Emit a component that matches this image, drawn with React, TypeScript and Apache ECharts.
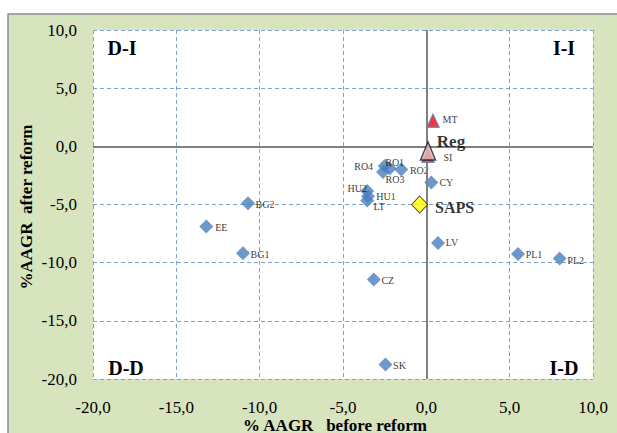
import React, { useEffect, useRef } from "react";
import * as echarts from "echarts";

// Member-state growth rates: before reform (x) vs after reform (y), in %
const countryNames = ["RO4", "RO1", "RO3", "RO2", "CY", "HU2", "HU1", "LT", "BG2", "EE", "BG1", "LV", "PL1", "PL2", "CZ", "SK"];
const beforeReform = [-2.5, -2.2, -2.6, -1.5, 0.3, -3.55, -3.5, -3.55, -10.7, -13.2, -11.0, 0.7, 5.5, 8.0, -3.15, -2.45];
const afterReform = [-1.7, -1.9, -2.2, -2.0, -3.1, -3.85, -4.3, -4.65, -4.9, -6.9, -9.2, -8.3, -9.25, -9.65, -11.45, -18.75];

const triNames = ["SI", "MT"];
const triBefore = [0.1, 0.4];
const triAfter = [-0.8, 2.2];

const regName = "Reg";
const regPoint = [0.1, -0.4];
const sapsName = "SAPS";
const sapsPoint = [-0.4, -5.0];

const axisMin = -20;
const axisMax = 10;
const axisStep = 5;

const quadrantLabels = ["D-I", "I-I", "D-D", "I-D"];
const xTitle = "% AAGR   before reform";
const yTitle = "%AAGR  after reform";

// label offsets (px) from each marker's centre to its label's centre
const labelOffset: Record<string, [number, number]> = {
  RO4: [-21, 0],
  RO1: [5, -6],
  RO3: [12, 8],
  RO2: [18, 1],
  CY: [15, 0],
  HU2: [-10, -3],
  HU1: [18, 0],
  LT: [12, 6],
  BG2: [17, 1],
  EE: [15, 1],
  BG1: [17, 1],
  LV: [14, 0],
  PL1: [16, 1],
  PL2: [16, 2],
  CZ: [14, 1],
  SK: [14, 1],
  SI: [20, 1.5],
  MT: [17, -1.5],
  Reg: [23, -9],
  SAPS: [35, 3],
};

const SERIF = "'Liberation Serif', 'Times New Roman', serif";
const fmt = (v: number) => v.toFixed(1).replace(".", ",");

const smallLabel = (name: string) => ({
  show: true,
  position: "inside" as const,
  offset: labelOffset[name],
  formatter: name,
  fontFamily: SERIF,
  fontSize: 10,
  color: "#000",
});

export default function App() {
  const ref = useRef<HTMLDivElement>(null);

  useEffect(() => {
    if (!ref.current) return;
    const chart = echarts.init(ref.current, undefined, { renderer: "svg" });

    const gridLine = {
      show: true,
      lineStyle: { color: "#7fa3d1", width: 1, type: [4, 3] as number[] },
    };

    const axisCommon = {
      type: "value" as const,
      min: axisMin,
      max: axisMax,
      interval: axisStep,
      axisLine: { show: false },
      axisTick: { show: false },
      splitLine: gridLine,
    };

    chart.setOption({
      animation: false,
      backgroundColor: "#ffffff",
      grid: {
        left: 93,
        top: 30,
        width: 500,
        height: 349,
        show: true,
        backgroundColor: "#ffffff",
        borderWidth: 0,
      },
      xAxis: {
        ...axisCommon,
        axisLabel: { formatter: fmt, fontFamily: SERIF, fontSize: 17, color: "#000", margin: 20 },
      },
      yAxis: {
        ...axisCommon,
        axisLabel: { formatter: fmt, fontFamily: SERIF, fontSize: 17, color: "#000", margin: 16 },
      },
      graphic: [
        {
          type: "rect",
          z: -100,
          silent: true,
          shape: { x: 8, y: 14, width: 640, height: 440 },
          style: { fill: "#d7e4bd", stroke: "#8c8c8c", lineWidth: 1.5 },
        },
        ...quadrantLabels.map((t, i) => ({
          type: "text",
          z: 10,
          x: i % 2 === 0 ? (i === 0 ? 122 : 126) : 564,
          y: i < 2 ? 48 : 368,
          style: {
            text: t,
            fontFamily: SERIF,
            fontWeight: "bold",
            fontSize: 20,
            fill: "#000",
            textAlign: "center",
            textVerticalAlign: "middle",
          },
        })),
        {
          type: "text",
          x: 335,
          y: 425,
          style: {
            text: xTitle,
            fontFamily: SERIF,
            fontWeight: "bold",
            fontSize: 17,
            fill: "#000",
            textAlign: "center",
            textVerticalAlign: "middle",
          },
        },
        {
          type: "text",
          x: 26,
          y: 207,
          rotation: Math.PI / 2,
          style: {
            text: yTitle,
            fontFamily: SERIF,
            fontWeight: "bold",
            fontSize: 17,
            fill: "#000",
            textAlign: "center",
            textVerticalAlign: "middle",
          },
        },
      ],
      series: [
        {
          type: "scatter",
          z: 1,
          data: [],
          markLine: {
            silent: true,
            symbol: ["none", "none"],
            label: { show: false },
            lineStyle: { color: "#808080", width: 2, type: "solid" },
            data: [{ xAxis: 0 }, { yAxis: 0 }],
          },
        },
        {
          type: "scatter",
          z: 3,
          symbol: "diamond",
          symbolSize: 14,
          itemStyle: { color: "#4a7ebb" },
          data: countryNames.map((n, i) => ({
            name: n,
            value: [beforeReform[i], afterReform[i]],
            label: smallLabel(n),
          })),
        },
        {
          type: "scatter",
          z: 4,
          symbol: "triangle",
          symbolSize: [12, 13],
          itemStyle: { color: "#ff0000", borderColor: "#4f81bd", borderWidth: 1.5 },
          data: triNames.map((n, i) => ({
            name: n,
            value: [triBefore[i], triAfter[i]],
            label: smallLabel(n),
          })),
        },
        {
          type: "scatter",
          z: 5,
          symbol: "triangle",
          symbolSize: [15, 18],
          itemStyle: { color: "#e6b9b8", borderColor: "#1a1a1a", borderWidth: 1.5 },
          data: [
            {
              name: regName,
              value: regPoint,
              label: {
                show: true,
                position: "inside",
                offset: labelOffset[regName],
                formatter: regName,
                fontFamily: SERIF,
                fontWeight: "bold",
                fontSize: 17,
                color: "#000",
              },
            },
          ],
        },
        {
          type: "scatter",
          z: 5,
          symbol: "diamond",
          symbolSize: [16, 17],
          itemStyle: { color: "#ffff00", borderColor: "#1a1a1a", borderWidth: 1 },
          data: [
            {
              name: sapsName,
              value: sapsPoint,
              label: {
                show: true,
                position: "inside",
                offset: labelOffset[sapsName],
                formatter: sapsName,
                fontFamily: SERIF,
                fontWeight: "bold",
                fontSize: 16,
                color: "#000",
              },
            },
          ],
        },
      ],
    });

    return () => chart.dispose();
  }, []);

  return (
    <div
      ref={ref}
      style={{ position: "fixed", left: 0, top: 0, width: 617, height: 433 }}
    />
  );
}
